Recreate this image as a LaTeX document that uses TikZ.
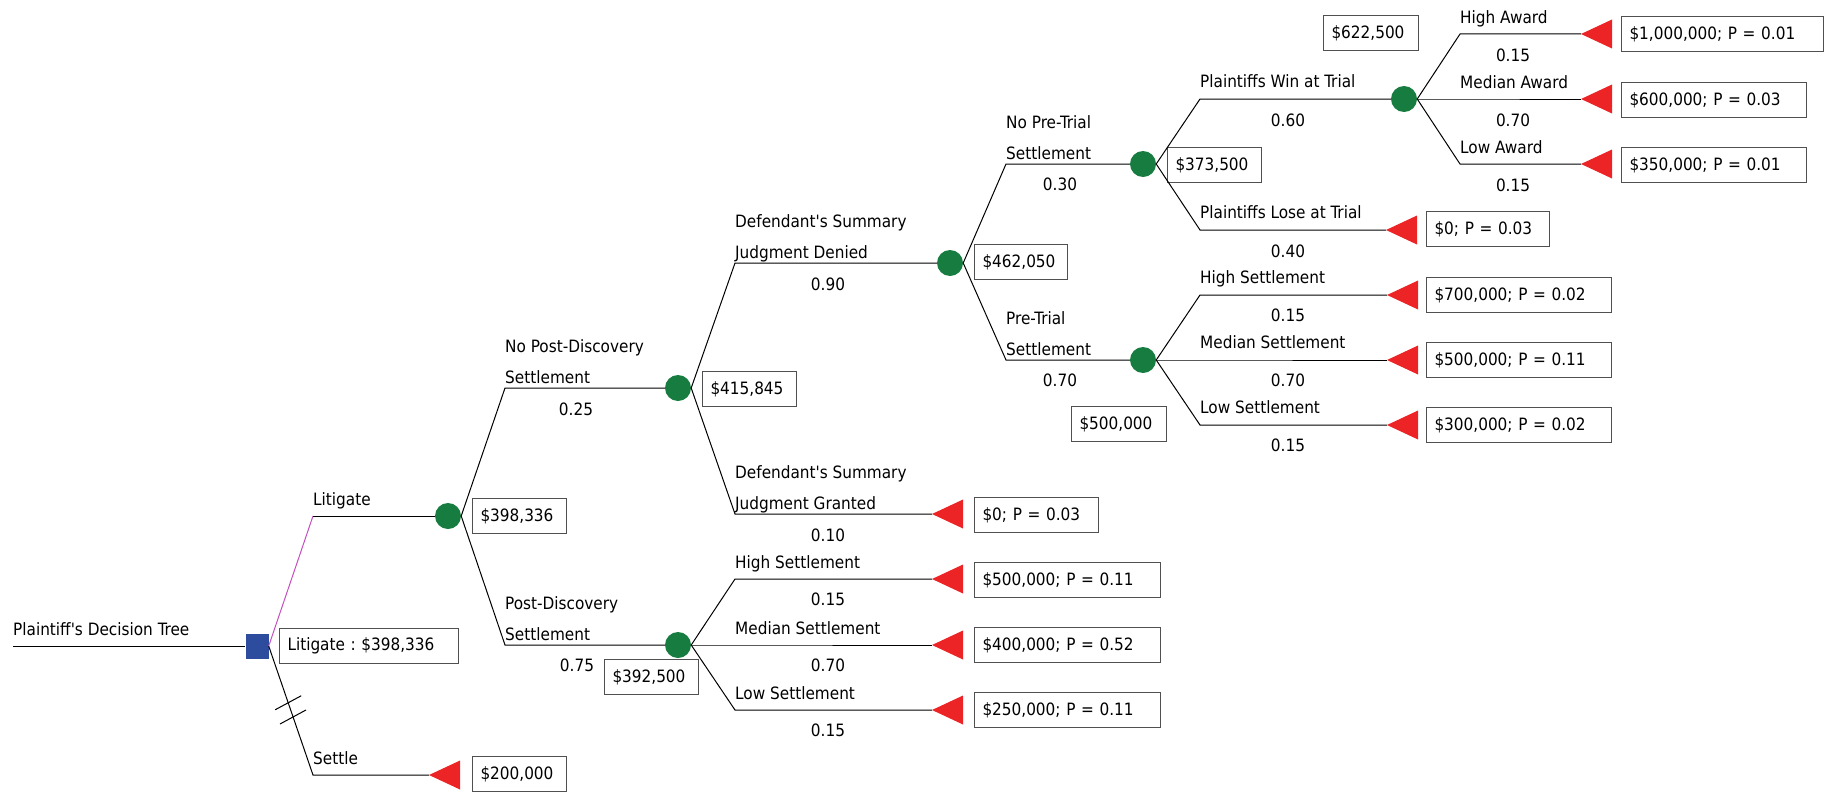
\documentclass[tikz,border=0pt]{standalone}
\usepackage{fontspec}
\setmainfont{DejaVu Sans Condensed}
\usepackage{tikz}
\usetikzlibrary{calc}
\definecolor{decblue}{RGB}{46,76,158}
\definecolor{chancegreen}{RGB}{22,124,64}
\definecolor{endred}{RGB}{236,36,38}
\definecolor{litpink}{RGB}{196,80,190}
\definecolor{boxgray}{RGB}{80,80,80}
% noeud terminal (triangle rouge)
\newcommand{\terminal}[3]{\coordinate (#1) at (#2,#3);
  \fill[endred] (#1) -- ++(31,-14.5) -- ++(0,29) -- cycle;}

\begin{document}
\begin{tikzpicture}[x=1pt, y=-1pt,
    font=\fontsize{17}{31}\selectfont\frenchspacing,
    branche/.style={line width=1pt},
    hasard/.style={circle, fill=chancegreen, minimum size=26pt, inner sep=0pt},
    decision/.style={rectangle, fill=decblue, minimum width=23pt, minimum height=25pt, inner sep=0pt},
    valeur/.style={draw=boxgray, line width=1pt, anchor=west, minimum height=35pt, inner xsep=8pt, inner ysep=0pt, align=left, text width=#1},
    etiq/.style={anchor=south west, inner sep=0pt, text depth=0pt, align=left},
    proba/.style={anchor=base, inner sep=0pt}]
    \useasboundingbox (0,0) rectangle (1830,792);

    % Racine
    \coordinate (depart) at (13,646);
    \node[decision] (d0) at (257,646) {};
    \node[etiq] (titre) at (13,636) {Plaintiff{\textquotesingle}s Decision Tree};
    \draw[branche] (depart) -- (d0.west);
    \node[valeur=163pt] (vd0) at (279,646) {Litigate : \$398,336};

    % Litigate
    \coordinate (f1h) at (313,516);
    \node[hasard] (c1) at (448,516) {};
    \draw[branche, litpink] (d0.east) -- (f1h);
    \draw[branche] (f1h) -- (c1.west);
    \node[etiq] (l1h) at (313,506) {Litigate};
    \node[valeur=78pt] (vc1) at (472,516) {\$398,336};

    % Settle
    \coordinate (f1b) at (313,775);
    \terminal{t0}{429}{775}
    \draw[branche] (d0.east) -- (f1b) -- (t0);
    \node[etiq] (l1b) at (313,765) {Settle};
    \node[valeur=78pt] (vt0) at (472,774) {\$200,000};
    \draw[branche] ($(d0.east)!0.44!(f1b)$) ++(-13,7) -- ++(26,-14);
    \draw[branche] ($(d0.east)!0.55!(f1b)$) ++(-13,7) -- ++(26,-14);

    % No Post-Discovery Settlement
    \coordinate (f2h) at (505,388);
    \node[hasard] (c2) at (678,388) {};
    \draw[branche] (c1.east) -- (f2h) -- (c2.west);
    \node[etiq] (l2h) at (505,384) {No Post-Discovery\\Settlement};
    \node[proba] (p2h) at (576,415) {0.25};
    \node[valeur=78pt] (vc2) at (702,389) {\$415,845};

    % Post-Discovery Settlement
    \coordinate (f2b) at (505,645);
    \node[hasard] (c3) at (678,645) {};
    \draw[branche] (c1.east) -- (f2b) -- (c3.west);
    \node[etiq] (l2b) at (505,641) {Post-Discovery\\Settlement};
    \node[proba] (p2b) at (577,671) {0.75};
    \node[valeur=78pt] (vc3) at (604,677) {\$392,500};

    % Summary Judgment Denied
    \coordinate (f3h) at (735,263);
    \node[hasard] (c4) at (950,263) {};
    \draw[branche] (c2.east) -- (f3h) -- (c4.west);
    \node[etiq] (l3h) at (735,259) {Defendant{\textquotesingle}s Summary\\Judgment Denied};
    \node[proba] (p3h) at (828,290) {0.90};
    \node[valeur=77pt] (vc4) at (974,262) {\$462,050};

    % Summary Judgment Granted
    \coordinate (f3b) at (735,514);
    \terminal{t1}{932}{514}
    \draw[branche] (c2.east) -- (f3b) -- (t1);
    \node[etiq] (l3b) at (735,510) {Defendant{\textquotesingle}s Summary\\Judgment Granted};
    \node[proba] (p3b) at (828,541) {0.10};
    \node[valeur=108pt] (vt1) at (974,515) {\$0; P = 0.03};

    % Post-Discovery : accords
    \coordinate (f4a) at (735,579);
    \coordinate (f4b) at (735,645);
    \coordinate (f4c) at (735,710);
    \terminal{t2}{932}{579}
    \terminal{t3}{932}{645}
    \terminal{t4}{932}{710}
    \draw[branche] (c3.east) -- (f4a) -- (t2);
    \draw[branche] (c3.east) -- (f4b) -- (t3);
    \draw[branche] (c3.east) -- (f4c) -- (t4);
    \node[etiq] (l4a) at (735,569) {High Settlement};
    \node[etiq] (l4b) at (735,635) {Median Settlement};
    \node[etiq] (l4c) at (735,700) {Low Settlement};
    \node[proba] (p4a) at (828,605) {0.15};
    \node[proba] (p4b) at (828,671) {0.70};
    \node[proba] (p4c) at (828,736) {0.15};
    \node[valeur=170pt] (vt2) at (974,580) {\$500,000; P = 0.11};
    \node[valeur=170pt] (vt3) at (974,645) {\$400,000; P = 0.52};
    \node[valeur=170pt] (vt4) at (974,710) {\$250,000; P = 0.11};

    % No Pre-Trial Settlement
    \coordinate (f5h) at (1006,164);
    \node[hasard] (c5) at (1143,164) {};
    \draw[branche] (c4.east) -- (f5h) -- (c5.west);
    \node[etiq] (l5h) at (1006,160) {No Pre-Trial\\Settlement};
    \node[proba] (p5h) at (1060,190) {0.30};
    \node[valeur=78pt] (vc5) at (1167,165) {\$373,500};

    % Pre-Trial Settlement
    \coordinate (f5b) at (1006,360);
    \node[hasard] (c6) at (1143,360) {};
    \draw[branche] (c4.east) -- (f5b) -- (c6.west);
    \node[etiq] (l5b) at (1006,356) {Pre-Trial\\Settlement};
    \node[proba] (p5b) at (1060,386) {0.70};
    \node[valeur=79pt] (vc6) at (1071,424) {\$500,000};

    % Plaintiffs Win at Trial
    \coordinate (f6h) at (1200,99);
    \node[hasard] (c7) at (1404,99) {};
    \draw[branche] (c5.east) -- (f6h) -- (c7.west);
    \node[etiq] (l6h) at (1200,88) {Plaintiffs Win at Trial};
    \node[proba] (p6h) at (1288,126) {0.60};
    \node[valeur=79pt] (vc7) at (1323,33) {\$622,500};

    % Plaintiffs Lose at Trial
    \coordinate (f6b) at (1200,230);
    \terminal{t5}{1386}{230}
    \draw[branche] (c5.east) -- (f6b) -- (t5);
    \node[etiq] (l6b) at (1200,219) {Plaintiffs Lose at Trial};
    \node[proba] (p6b) at (1288,257) {0.40};
    \node[valeur=107pt] (vt5) at (1426,229) {\$0; P = 0.03};

    % Pre-Trial : accords
    \coordinate (f7a) at (1200,295);
    \coordinate (f7b) at (1200,360);
    \coordinate (f7c) at (1200,425);
    \terminal{t6}{1387}{295}
    \terminal{t7}{1387}{360}
    \terminal{t8}{1387}{425}
    \draw[branche] (c6.east) -- (f7a) -- (t6);
    \draw[branche] (c6.east) -- (f7b) -- (t7);
    \draw[branche] (c6.east) -- (f7c) -- (t8);
    \node[etiq] (l7a) at (1200,284) {High Settlement};
    \node[etiq] (l7b) at (1200,349) {Median Settlement};
    \node[etiq] (l7c) at (1200,414) {Low Settlement};
    \node[proba] (p7a) at (1288,321) {0.15};
    \node[proba] (p7b) at (1288,386) {0.70};
    \node[proba] (p7c) at (1288,451) {0.15};
    \node[valeur=169pt] (vt6) at (1426,295) {\$700,000; P = 0.02};
    \node[valeur=169pt] (vt7) at (1426,360) {\$500,000; P = 0.11};
    \node[valeur=169pt] (vt8) at (1426,425) {\$300,000; P = 0.02};

    % Montants au proces
    \coordinate (f8a) at (1460,34);
    \coordinate (f8b) at (1460,99);
    \coordinate (f8c) at (1460,164);
    \terminal{t9}{1581}{34}
    \terminal{t10}{1581}{99}
    \terminal{t11}{1581}{164}
    \draw[branche] (c7.east) -- (f8a) -- (t9);
    \draw[branche] (c7.east) -- (f8b) -- (t10);
    \draw[branche] (c7.east) -- (f8c) -- (t11);
    \node[etiq] (l8a) at (1460,24) {High Award};
    \node[etiq] (l8b) at (1460,89) {Median Award};
    \node[etiq] (l8c) at (1460,154) {Low Award};
    \node[proba] (p8a) at (1513,61) {0.15};
    \node[proba] (p8b) at (1513,126) {0.70};
    \node[proba] (p8c) at (1513,191) {0.15};
    \node[valeur=186pt] (vt9) at (1621,34) {\$1,000,000; P = 0.01};
    \node[valeur=169pt] (vt10) at (1621,100) {\$600,000; P = 0.03};
    \node[valeur=169pt] (vt11) at (1621,165) {\$350,000; P = 0.01};
\end{tikzpicture}
\end{document}
